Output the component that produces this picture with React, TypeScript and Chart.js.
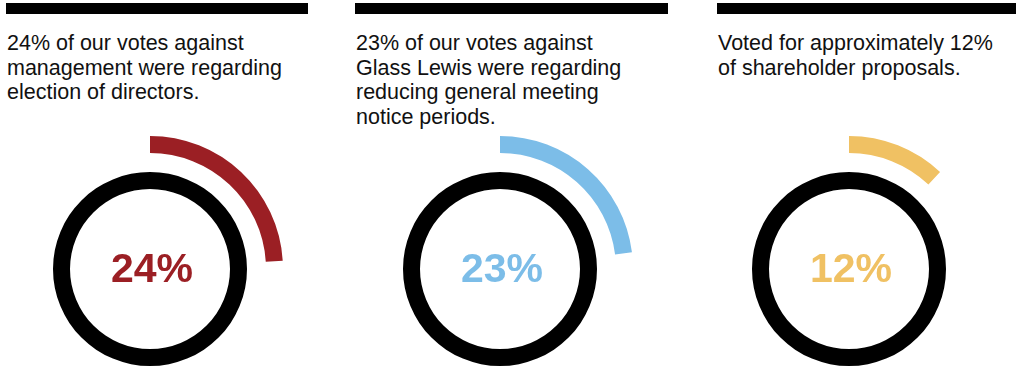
import React, { useEffect, useRef } from "react";
import { Chart, registerables } from "chart.js";

Chart.register(...registerables);

const descriptions = [
  "24% of our votes against management were regarding election of directors.",
  "23% of our votes against Glass Lewis were regarding reducing general meeting notice periods.",
  "Voted for approximately 12% of shareholder proposals.",
];
const percentages = [24, 23, 12];
const valueLabels = ["24%", "23%", "12%"];
const arcColors = ["#9B1F24", "#7CBDE8", "#F0C163"];

const SIZE = 266;
const panelLayout = [
  { barLeft: 6, barWidth: 302, textLeft: 7, textWidth: 290, cx: 150 },
  { barLeft: 355, barWidth: 313, textLeft: 356, textWidth: 290, cx: 499.5 },
  { barLeft: 717, barWidth: 310, textLeft: 718, textWidth: 292, cx: 848.5 },
];
const CY = 269;

function RingChart({ index }: { index: number }) {
  const ref = useRef<HTMLCanvasElement | null>(null);
  useEffect(() => {
    if (!ref.current) return;
    const pct = percentages[index];
    const color = arcColors[index];
    const label = valueLabels[index];
    const centerText = {
      id: "centerText",
      afterDraw(chart: any) {
        const { ctx, chartArea } = chart;
        const x = (chartArea.left + chartArea.right) / 2;
        const y = (chartArea.top + chartArea.bottom) / 2;
        ctx.save();
        ctx.fillStyle = color;
        ctx.font = "bold 41px 'Liberation Sans', Arial, sans-serif";
        ctx.textAlign = "center";
        ctx.textBaseline = "alphabetic";
        ctx.fillText(label, x + 2, y + 13);
        ctx.restore();
      },
    };
    const chart = new Chart(ref.current, {
      type: "doughnut",
      data: {
        labels: ["value", "rest"],
        datasets: [
          {
            data: [pct, 100 - pct],
            backgroundColor: [color, "rgba(0,0,0,0)"],
            borderWidth: 0,
            weight: 17,
          } as any,
          {
            data: [100],
            backgroundColor: ["rgba(0,0,0,0)"],
            borderWidth: 0,
            weight: 19,
          } as any,
          {
            data: [100],
            backgroundColor: ["#000000"],
            borderWidth: 0,
            weight: 17,
          } as any,
        ],
      },
      options: {
        responsive: false,
        animation: false,
        cutout: 80,
        events: [],
        layout: { padding: 0 },
        plugins: {
          legend: { display: false },
          tooltip: { enabled: false },
        },
      } as any,
      plugins: [centerText],
    });
    return () => chart.destroy();
  }, [index]);
  const p = panelLayout[index];
  return (
    <canvas
      ref={ref}
      width={SIZE}
      height={SIZE}
      style={{
        position: "absolute",
        left: p.cx - SIZE / 2,
        top: CY - SIZE / 2,
        width: SIZE,
        height: SIZE,
      }}
    />
  );
}

export default function App() {
  return (
    <div
      style={{
        position: "relative",
        width: 1016,
        height: 367,
        overflow: "hidden",
        background: "#fff",
      }}
    >
      <style>{`body{margin:0;}`}</style>
      {panelLayout.map((p, i) => (
        <React.Fragment key={i}>
          <div
            style={{
              position: "absolute",
              left: p.barLeft,
              top: 3,
              width: p.barWidth,
              height: 11,
              background: "#000",
            }}
          />
          <div
            style={{
              position: "absolute",
              left: p.textLeft,
              top: 31,
              width: p.textWidth,
              fontFamily: "'Liberation Sans', Arial, sans-serif",
              fontSize: 21.5,
              lineHeight: "24.5px",
              color: "#111",
            }}
          >
            {descriptions[i]}
          </div>
          <RingChart index={i} />
        </React.Fragment>
      ))}
    </div>
  );
}
